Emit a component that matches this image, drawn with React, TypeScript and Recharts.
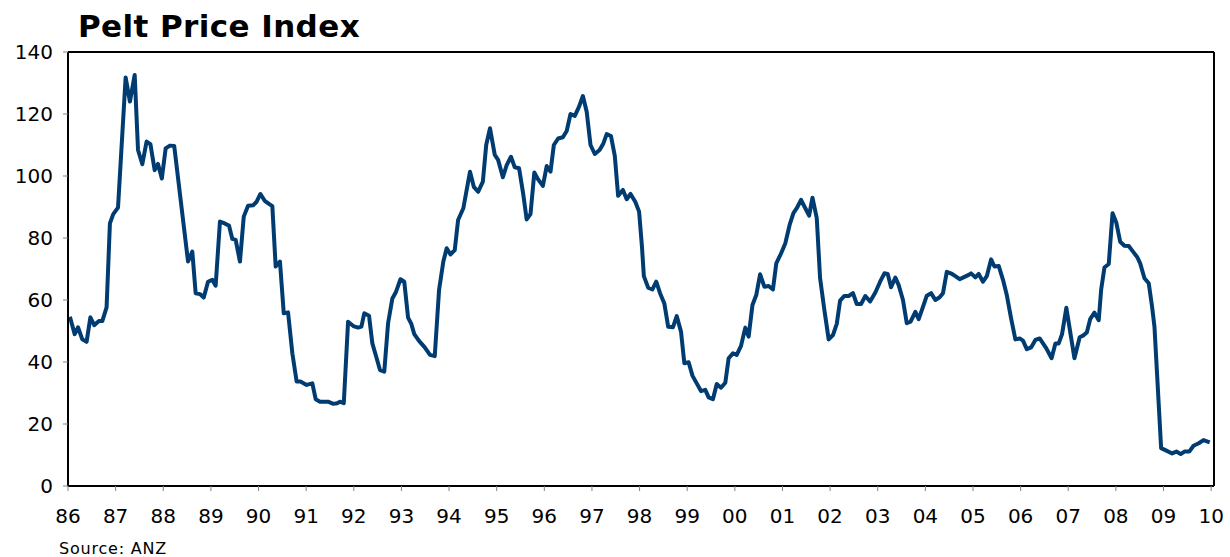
import React from 'react';
import { LineChart, Line, XAxis, YAxis, ReferenceLine } from 'recharts';

// decimal year (years since 1900) of each turning point of the index
const years = [
  86.04, 86.14, 86.21, 86.30, 86.39, 86.47, 86.55, 86.65, 86.72, 86.81,
  86.88, 86.95, 87.05, 87.21, 87.30, 87.40, 87.47, 87.56, 87.65, 87.73,
  87.82, 87.89, 87.97, 88.05, 88.14, 88.23, 88.52, 88.61, 88.68, 88.77,
  88.85, 88.94, 89.03, 89.10, 89.19, 89.29, 89.38, 89.45, 89.52, 89.61,
  89.69, 89.78, 89.89, 89.96, 90.04, 90.13, 90.22, 90.29, 90.36, 90.45,
  90.53, 90.62, 90.71, 90.80, 90.88, 91.01, 91.13, 91.20, 91.29, 91.46,
  91.57, 91.65, 91.71, 91.79, 91.88, 91.99, 92.09, 92.16, 92.22, 92.32,
  92.39, 92.48, 92.55, 92.64, 92.72, 92.81, 92.88, 92.98, 93.06, 93.14,
  93.21, 93.27, 93.37, 93.49, 93.60, 93.70, 93.79, 93.88, 93.95, 94.03,
  94.12, 94.19, 94.30, 94.44, 94.52, 94.61, 94.71, 94.78, 94.86, 94.96,
  95.03, 95.13, 95.21, 95.30, 95.38, 95.47, 95.56, 95.63, 95.71, 95.79,
  95.87, 95.97, 96.05, 96.13, 96.20, 96.29, 96.39, 96.47, 96.55, 96.64,
  96.73, 96.81, 96.89, 96.97, 97.06, 97.16, 97.24, 97.31, 97.40, 97.48,
  97.55, 97.65, 97.73, 97.81, 97.91, 97.99, 98.05, 98.09, 98.18, 98.27,
  98.35, 98.43, 98.52, 98.60, 98.70, 98.78, 98.87, 98.94, 99.03, 99.11,
  99.20, 99.29, 99.38, 99.45, 99.54, 99.62, 99.71, 99.80, 99.87, 99.96,
  100.04, 100.13, 100.22, 100.29, 100.37, 100.45, 100.53, 100.62, 100.71, 100.80,
  100.87, 100.97, 101.06, 101.15, 101.23, 101.30, 101.39, 101.48, 101.56, 101.63,
  101.72, 101.79, 101.88, 101.97, 102.06, 102.14, 102.21, 102.30, 102.39, 102.48,
  102.56, 102.65, 102.74, 102.84, 102.95, 103.05, 103.14, 103.21, 103.28, 103.37,
  103.44, 103.53, 103.61, 103.69, 103.79, 103.86, 103.95, 104.03, 104.12, 104.21,
  104.30, 104.37, 104.45, 104.56, 104.63, 104.72, 104.80, 104.91, 104.96, 105.05,
  105.12, 105.21, 105.29, 105.38, 105.45, 105.54, 105.63, 105.71, 105.80, 105.89,
  105.98, 106.05, 106.13, 106.22, 106.31, 106.40, 106.54, 106.65, 106.73, 106.80,
  106.87, 106.96, 107.04, 107.13, 107.24, 107.31, 107.39, 107.46, 107.55, 107.64,
  107.69, 107.76, 107.85, 107.93, 108.01, 108.09, 108.18, 108.27, 108.36, 108.45,
  108.51, 108.60, 108.69, 108.76, 108.81, 108.95, 109.06, 109.18, 109.27, 109.36,
  109.44, 109.54, 109.63, 109.74, 109.84, 109.97,
];

const pelt = [
  54.6, 49, 51.2, 47.3, 46.5, 54.4, 51.9, 53.2, 53.2, 57.6,
  84.7, 87.7, 89.8, 131.8, 124, 132.6, 108.4, 103.8, 111.1, 110.3,
  101.9, 103.9, 99.2, 108.9, 109.8, 109.7, 72.4, 75.6, 62.2, 61.9,
  60.8, 65.9, 66.5, 64.6, 85.3, 84.7, 84, 79.7, 79.4, 72.4,
  86.9, 90.4, 90.6, 91.7, 94.2, 92, 91, 90.3, 70.8, 72.4,
  55.7, 56, 42.8, 33.7, 33.7, 32.6, 33.1, 28, 27.2, 27.2,
  26.5, 26.7, 27.2, 26.7, 53, 51.6, 51.1, 51.4, 55.7, 54.9,
  46, 41.2, 37.4, 36.9, 52.5, 60.5, 62.4, 66.7, 65.9, 54.3,
  52.2, 49, 46.8, 44.7, 42.3, 41.9, 63.2, 72.4, 76.7, 74.7,
  76.1, 85.8, 89.6, 101.4, 96.5, 94.9, 98.2, 110, 115.4, 106.8,
  105.2, 99.6, 103.5, 106.2, 102.8, 102.5, 93.9, 86, 87.7, 101.1,
  98.9, 96.8, 103.2, 101.4, 110, 112.1, 112.5, 114.5, 120, 119.4,
  122.4, 125.8, 120.7, 110, 107.1, 108.4, 110.5, 113.5, 112.9, 106.5,
  93.6, 95.5, 92.5, 94.2, 91.7, 88.5, 77.2, 67.7, 64, 63.4,
  65.9, 62.2, 58.9, 51.4, 51.2, 54.8, 49.8, 39.6, 39.9, 35.6,
  33.1, 30.6, 31, 28.6, 28, 32.9, 31.7, 33.3, 41.2, 42.8,
  42.3, 45.2, 51.1, 48.2, 58.4, 61.6, 68.3, 64.3, 64.5, 63.4,
  71.8, 75, 78.3, 84.2, 88, 89.6, 92.3, 89.6, 87.2, 93,
  86.4, 67, 56.8, 47.3, 48.7, 52.3, 59.8, 61.3, 61.3, 62.2,
  58.7, 58.7, 61.3, 59.5, 62.4, 65.9, 68.6, 68.4, 64.1, 67.2,
  64.8, 60, 52.5, 53, 56.2, 53.8, 57.8, 61.4, 62.2, 60,
  60.9, 62.2, 69.1, 68.4, 67.7, 66.7, 67.3, 68.1, 68.6, 67.3,
  68.4, 65.9, 67.7, 73.1, 70.8, 71, 66.5, 61.6, 54.1, 47.3,
  47.6, 46.9, 44.1, 44.7, 47.1, 47.6, 44.4, 41.2, 46, 46,
  49, 57.5, 49.8, 41.2, 48, 48.5, 49.5, 53.8, 55.9, 53.5,
  63.2, 70.5, 71.6, 88, 84.9, 78.8, 77.5, 77.4, 75.6, 73.8,
  71.8, 67, 65.4, 57.8, 51.4, 12.2, 11.4, 10.5, 11.1, 10.3,
  11.1, 11.1, 13, 13.8, 14.8, 14.1,
];

const yearTicks = [86, 87, 88, 89, 90, 91, 92, 93, 94, 95, 96, 97, 98, 99, 100, 101, 102, 103, 104, 105, 106, 107, 108, 109, 110];
const valueTicks = [0, 20, 40, 60, 80, 100, 120, 140];
const xMax = 110.06;

const data = years.map((t, i) => ({ t, v: pelt[i] }));

const font = '"DejaVu Sans", sans-serif';
const tickStyle = { fontSize: 20, fill: '#000', fontFamily: font };

export default function App() {
  return (
    <div style={{ position: 'absolute', left: 0, top: 0, width: 1230, height: 557, background: '#fff' }}>
      <div
        style={{
          position: 'absolute', left: 78, top: 11, fontFamily: font, fontWeight: 'bold',
          fontSize: 31, lineHeight: '1', color: '#000', whiteSpace: 'nowrap', letterSpacing: 0.4,
        }}
      >
        Pelt Price Index
      </div>
      <LineChart width={1230} height={557} data={data} margin={{ top: 52, right: 16, bottom: 21, left: 8 }}>
        <XAxis
          dataKey="t"
          type="number"
          domain={[86, xMax]}
          ticks={yearTicks}
          allowDataOverflow
          height={50}
          tick={tickStyle}
          tickSize={5}
          tickMargin={18}
          tickFormatter={(v: number) => String(Math.round(v) % 100).padStart(2, '0')}
          axisLine={{ stroke: '#000', strokeWidth: 2 }}
          tickLine={{ stroke: '#808080' }}
        />
        <YAxis
          type="number"
          domain={[0, 140]}
          ticks={valueTicks}
          width={60}
          tick={tickStyle}
          tickSize={5}
          tickMargin={10}
          axisLine={{ stroke: '#000', strokeWidth: 2 }}
          tickLine={{ stroke: '#808080' }}
        />
        <ReferenceLine y={140} stroke="#000" strokeWidth={2} />
        <ReferenceLine x={xMax} stroke="#000" strokeWidth={2} />
        <Line
          type="linear"
          dataKey="v"
          stroke="#003c71"
          strokeWidth={4}
          strokeLinejoin="round"
          dot={false}
          isAnimationActive={false}
        />
      </LineChart>
      <div
        style={{
          position: 'absolute', left: 59, top: 541, fontFamily: font, fontSize: 16,
          lineHeight: '1', color: '#000', whiteSpace: 'nowrap', letterSpacing: 0.8,
        }}
      >
        Source: ANZ
      </div>
    </div>
  );
}
